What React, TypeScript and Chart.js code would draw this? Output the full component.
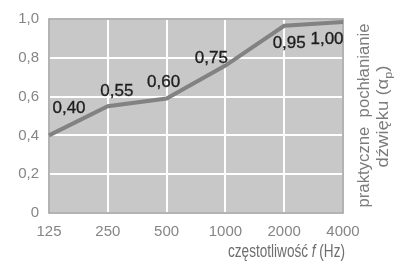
import React, { useEffect, useRef } from "react";
import { Chart, registerables } from "chart.js";

Chart.register(...registerables);

const frequencies = ["125", "250", "500", "1000", "2000", "4000"];
const absorption = [0.40, 0.55, 0.59, 0.76, 0.965, 0.985];
const valueLabels = ["0,40", "0,55", "0,60", "0,75", "0,95", "1,00"];
const yTicks = [0, 0.2, 0.4, 0.6, 0.8, 1.0];
const yTickLabels = ["0", "0,2", "0,4", "0,6", "0,8", "1,0"];
const xTitleParts = ["częstotliwość ", "f", " (Hz)"];
const yTitleLine1 = "praktyczne  pochłanianie";
const yTitleLine2Parts = ["dźwięku (α", "p", ")"];

// label offsets relative to the point (style only)
const labelOffsets: [number, number][] = [
  [20, -27],
  [9, -15],
  [-3, -16],
  [-14, -7],
  [5, 18],
  [-16, 17],
];

const FONT = "'Liberation Sans', Arial, sans-serif";

type Part = { text: string; font: string; dy: number };

function drawParts(ctx: any, parts: Part[], x: number, y: number, targetWidth: number, align: "left" | "right" | "center") {
  let natural = 0;
  const widths = parts.map((p) => {
    ctx.font = p.font;
    const w = ctx.measureText(p.text).width;
    natural += w;
    return w;
  });
  const s = targetWidth / natural;
  let start = x;
  if (align === "right") start = x - targetWidth;
  if (align === "center") start = x - targetWidth / 2;
  ctx.save();
  ctx.translate(start, y);
  ctx.scale(s, 1);
  ctx.textAlign = "left";
  ctx.textBaseline = "alphabetic";
  let cx = 0;
  parts.forEach((p, i) => {
    ctx.font = p.font;
    ctx.fillText(p.text, cx, p.dy);
    cx += widths[i];
  });
  ctx.restore();
}

const decorPlugin = {
  id: "decor",
  beforeDatasetsDraw(chart: any) {
    const { ctx, chartArea } = chart;
    ctx.save();
    ctx.strokeStyle = "#9a9a9a";
    ctx.lineWidth = 1.5;
    ctx.strokeRect(chartArea.left, chartArea.top, chartArea.right - chartArea.left, chartArea.bottom - chartArea.top);
    ctx.restore();
  },
  afterDatasetsDraw(chart: any) {
    const { ctx, chartArea } = chart;
    const meta = chart.getDatasetMeta(0);
    ctx.save();
    ctx.font = `17px ${FONT}`;
    ctx.fillStyle = "#1e1e1e";
    ctx.strokeStyle = "#1e1e1e";
    ctx.lineWidth = 0.35;
    ctx.textAlign = "center";
    ctx.textBaseline = "middle";
    meta.data.forEach((pt: any, i: number) => {
      const [dx, dy] = labelOffsets[i];
      ctx.fillText(valueLabels[i], pt.x + dx, pt.y + dy);
      ctx.strokeText(valueLabels[i], pt.x + dx, pt.y + dy);
    });

    // x title
    ctx.fillStyle = "#6e6e6e";
    drawParts(
      ctx,
      [
        { text: xTitleParts[0], font: `18px ${FONT}`, dy: 0 },
        { text: xTitleParts[1], font: `italic 18px ${FONT}`, dy: 0 },
        { text: xTitleParts[2], font: `18px ${FONT}`, dy: 0 },
      ],
      chartArea.right + 2,
      257,
      117,
      "right"
    );

    // right rotated title
    const cy = (chartArea.top + chartArea.bottom) / 2;
    ctx.fillStyle = "#7c7c7c";
    ctx.save();
    ctx.translate(369, cy - 0.5);
    ctx.rotate(-Math.PI / 2);
    drawParts(ctx, [{ text: yTitleLine1, font: `16px ${FONT}`, dy: 0 }], 0, 0, 184, "center");
    ctx.restore();

    ctx.save();
    ctx.translate(388, cy + 0.5);
    ctx.rotate(-Math.PI / 2);
    drawParts(
      ctx,
      [
        { text: yTitleLine2Parts[0], font: `16px ${FONT}`, dy: 0 },
        { text: yTitleLine2Parts[1], font: `11px ${FONT}`, dy: 4 },
        { text: yTitleLine2Parts[2], font: `16px ${FONT}`, dy: 0 },
      ],
      0,
      0,
      102,
      "center"
    );
    ctx.restore();

    ctx.restore();
  },
};

export default function App() {
  const ref = useRef<HTMLCanvasElement | null>(null);
  useEffect(() => {
    if (!ref.current) return;
    const chart = new Chart(ref.current, {
      type: "line",
      data: {
        labels: frequencies,
        datasets: [
          {
            data: absorption,
            borderColor: "#828282",
            borderWidth: 4,
            pointRadius: 0,
            tension: 0,
            fill: false,
          },
        ],
      },
      options: {
        animation: false,
        responsive: false,
        maintainAspectRatio: false,
        layout: { padding: { top: 18, right: 54, left: 0, bottom: 0 } },
        plugins: {
          legend: { display: false },
          tooltip: { enabled: false },
        },
        scales: {
          x: {
            offset: false,
            grid: { color: "#ffffff", lineWidth: 2, drawTicks: false },
            border: { display: false },
            ticks: {
              color: "#858585",
              font: { family: FONT, size: 15 },
              padding: 10,
              maxRotation: 0,
              autoSkip: false,
            },
            afterFit: (s: any) => {
              s.height = 51;
            },
          },
          y: {
            min: 0,
            max: 1,
            afterBuildTicks: (s: any) => {
              s.ticks = yTicks.map((v) => ({ value: v }));
            },
            grid: { color: "#ffffff", lineWidth: 2, drawTicks: false },
            border: { display: false },
            ticks: {
              color: "#858585",
              font: { family: FONT, size: 15 },
              padding: 10,
              callback: (v: any) => {
                const i = yTicks.findIndex((t) => Math.abs(t - Number(v)) < 1e-6);
                return i >= 0 ? yTickLabels[i] : "";
              },
            },
            afterFit: (s: any) => {
              s.width = 49;
            },
          },
        },
      },
      plugins: [
        {
          id: "bg",
          beforeDraw(chart: any) {
            const { ctx, chartArea } = chart;
            ctx.save();
            ctx.fillStyle = "#c8c8c8";
            ctx.fillRect(chartArea.left, chartArea.top, chartArea.right - chartArea.left, chartArea.bottom - chartArea.top);
            ctx.restore();
          },
        },
        decorPlugin,
      ],
    });
    return () => chart.destroy();
  }, []);
  return (
    <div style={{ position: "absolute", left: 0, top: 0, width: 397, height: 264, background: "#fff" }}>
      <canvas ref={ref} width={397} height={264} style={{ width: 397, height: 264, display: "block" }} />
    </div>
  );
}
